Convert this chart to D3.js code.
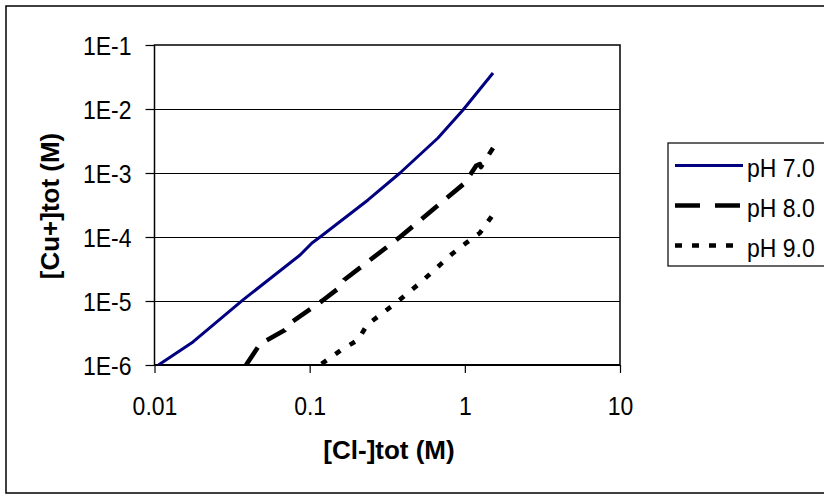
<!DOCTYPE html>
<html>
<head>
<meta charset="utf-8">
<script src="https://cdn.jsdelivr.net/npm/d3@7"></script>
<style>
  html, body { margin: 0; padding: 0; background: #fff; overflow: hidden; }
  svg { display: block; }
  text { font-family: Arial, "Liberation Sans", sans-serif; fill: #000; }
</style>
</head>
<body>
<svg id="chart" width="824" height="495"></svg>
<script>
// ---- data ----
const seriesNames = ["pH 7.0", "pH 8.0", "pH 9.0"];
const ph7Cl = [0.0106, 0.0177, 0.0372, 0.0867, 0.1035, 0.1167, 0.2377, 0.382, 0.671, 0.973, 1.519];
const ph7Cu = [1.0e-6, 2.29e-6, 1.04e-5, 5.23e-5, 8.05e-5, 1.0e-4, 3.79e-4, 1.0e-3, 3.52e-3, 9.64e-3, 3.65e-2];
const ph8Cl = [0.0389, 0.0479, 0.0693, 0.0736, 0.120, 0.157, 0.1665, 0.382, 0.652, 1.0, 1.18, 1.25, 1.27, 1.52];
const ph8Cu = [1.0e-6, 2.13e-6, 3.52e-6, 4.37e-6, 1.0e-5, 1.65e-5, 2.13e-5, 1.0e-4, 2.94e-4, 6.98e-4, 1.29e-3, 1.38e-3, 1.24e-3, 2.46e-3];
const ph9Cl = [0.1194, 0.159, 0.205, 0.234, 0.366, 0.514, 0.826, 1.0, 1.25, 1.496];
const ph9Cu = [1.04e-6, 1.71e-6, 2.46e-6, 4.22e-6, 9.65e-6, 1.91e-5, 5.42e-5, 7.78e-5, 1.155e-4, 2.13e-4];
const xTickValues = [0.01, 0.1, 1, 10];
const xTickLabels = ["0.01", "0.1", "1", "10"];
const yTickValues = [1e-6, 1e-5, 1e-4, 1e-3, 1e-2, 1e-1];
const yTickLabels = ["1E-6", "1E-5", "1E-4", "1E-3", "1E-2", "1E-1"];
const xTitle = "[Cl-]tot (M)";
const yTitle = "[Cu+]tot (M)";

// ---- layout ----
const L = 154.5, R = 620, T = 45, B = 365;
const svg = d3.select("#chart");

const x = d3.scaleLog().domain([0.01, 10]).range([L, R]);
const y = d3.scaleLog().domain([1e-6, 1e-1]).range([B, T]);

// outer frame
svg.append("rect").attr("x", 6).attr("y", 6).attr("width", 830).attr("height", 487)
  .attr("fill", "none").attr("stroke", "#000").attr("stroke-width", 1.5);

// gridlines
svg.append("g").selectAll("line").data(yTickValues.slice(1, -1)).join("line")
  .attr("x1", L).attr("x2", R)
  .attr("y1", d => Math.round(y(d)) + 0.5).attr("y2", d => Math.round(y(d)) + 0.5)
  .attr("stroke", "#000").attr("stroke-width", 1);

// y axis
const yAxis = d3.axisLeft(y).tickValues(yTickValues)
  .tickFormat((d, i) => yTickLabels[i]).tickSize(9).tickPadding(14);
const gy = svg.append("g").attr("transform", `translate(${L},0)`).call(yAxis);
gy.select(".domain").remove();
gy.selectAll(".tick line").attr("stroke", "#000").attr("stroke-width", 1.2);
gy.selectAll(".tick text").attr("font-size", 25).attr("dy", null).attr("y", 9.5)
  .attr("font-family", "Arial, 'Liberation Sans', sans-serif")
  .attr("transform", "translate(-23,0) scale(0.92,1)").attr("x", 0);

// x axis
const xAxis = d3.axisBottom(x).tickValues(xTickValues)
  .tickFormat((d, i) => xTickLabels[i]).tickSize(8);
const gx = svg.append("g").attr("transform", `translate(0,${B})`).call(xAxis);
gx.select(".domain").remove();
gx.selectAll(".tick line").attr("stroke", "#000").attr("stroke-width", 1.2);
gx.selectAll(".tick text").attr("font-size", 25).attr("dy", null).attr("y", 0)
  .attr("font-family", "Arial, 'Liberation Sans', sans-serif")
  .attr("transform", "translate(0,50) scale(0.92,1)");

// plot border
svg.append("rect").attr("x", L).attr("y", T).attr("width", R - L).attr("height", B - T)
  .attr("fill", "none").attr("stroke", "#000").attr("stroke-width", 1.5);
svg.append("line").attr("x1", L).attr("x2", R).attr("y1", B).attr("y2", B)
  .attr("stroke", "#000").attr("stroke-width", 2);

// series
const series = [
  { name: seriesNames[0], xs: ph7Cl, ys: ph7Cu, color: "#000080", width: 3, dash: null, legDash: null },
  { name: seriesNames[1], xs: ph8Cl, ys: ph8Cu, color: "#000", width: 4.6, dash: "21,12", legDash: "25,15" },
  { name: seriesNames[2], xs: ph9Cl, ys: ph9Cu, color: "#000", width: 4.6, dash: "6,11", legDash: "7,10" }
];
const line = d3.line().x(d => x(d[0])).y(d => y(d[1]));
const clipId = "plotclip";
svg.append("clipPath").attr("id", clipId).append("rect")
  .attr("x", L).attr("y", T - 2).attr("width", R - L).attr("height", B - T + 2);
series.forEach(s => {
  const pts = s.xs.map((v, i) => [v, s.ys[i]]);
  svg.append("path").attr("d", line(pts)).attr("fill", "none")
    .attr("stroke", s.color).attr("stroke-width", s.width)
    .attr("stroke-dasharray", s.dash).attr("stroke-linejoin", "round")
    .attr("clip-path", `url(#${clipId})`);
});

// legend
const lg = svg.append("g");
lg.append("rect").attr("x", 668).attr("y", 143).attr("width", 200).attr("height", 123)
  .attr("fill", "#fff").attr("stroke", "#000").attr("stroke-width", 1.2);
series.forEach((s, i) => {
  const ly = 165.5 + i * 40;
  lg.append("line").attr("x1", 675).attr("x2", 743).attr("y1", ly).attr("y2", ly)
    .attr("stroke", s.color).attr("stroke-width", s.width).attr("stroke-dasharray", s.legDash);
  lg.append("text").attr("font-size", 25)
    .attr("transform", `translate(747,${ly + 11}) scale(0.92,1)`).text(s.name);
});

// axis titles
svg.append("text").attr("font-size", 26).attr("font-weight", "bold")
  .attr("text-anchor", "middle").attr("x", 389).attr("y", 459).text(xTitle);
svg.append("text").attr("font-size", 26).attr("font-weight", "bold")
  .attr("text-anchor", "middle").attr("transform", "translate(59,206) rotate(-90)").text(yTitle);
</script>
</body>
</html>
